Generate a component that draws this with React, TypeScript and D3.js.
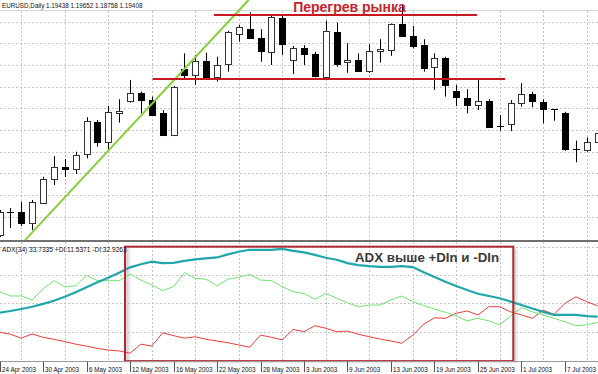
import React from 'react';
import * as d3 from 'd3';

const W = 598;
const H = 374;

const dates = [
  '24 Apr 2003', '25 Apr 2003', '28 Apr 2003', '29 Apr 2003', '30 Apr 2003', '1 May 2003', '2 May 2003', '5 May 2003',
  '6 May 2003', '7 May 2003', '8 May 2003', '9 May 2003', '12 May 2003', '13 May 2003', '14 May 2003', '15 May 2003',
  '16 May 2003', '19 May 2003', '20 May 2003', '21 May 2003', '22 May 2003', '23 May 2003', '26 May 2003', '27 May 2003',
  '28 May 2003', '29 May 2003', '30 May 2003', '2 Jun 2003', '3 Jun 2003', '4 Jun 2003', '5 Jun 2003', '6 Jun 2003',
  '9 Jun 2003', '10 Jun 2003', '11 Jun 2003', '12 Jun 2003', '13 Jun 2003', '16 Jun 2003', '17 Jun 2003', '18 Jun 2003',
  '19 Jun 2003', '20 Jun 2003', '23 Jun 2003', '24 Jun 2003', '25 Jun 2003', '26 Jun 2003', '27 Jun 2003', '30 Jun 2003',
  '1 Jul 2003', '2 Jul 2003', '3 Jul 2003', '4 Jul 2003', '7 Jul 2003', '8 Jul 2003', '9 Jul 2003', '10 Jul 2003',
];

const openP = [
  1.0915, 1.1023, 1.1023, 1.0969, 1.1064, 1.1174, 1.1231, 1.1219, 1.1289, 1.1438, 1.1346, 1.1477, 1.1534, 1.1569,
  1.1538, 1.1477, 1.1377, 1.1680, 1.1654, 1.1720, 1.1643, 1.1705, 1.1843, 1.1865, 1.1823, 1.1759, 1.1916, 1.1723,
  1.1777, 1.1749, 1.1643, 1.1854, 1.1712, 1.1723, 1.1674, 1.1765, 1.1769, 1.1888, 1.1834, 1.1792, 1.1688, 1.1731,
  1.1581, 1.1549, 1.1515, 1.1535, 1.1418, 1.1428, 1.1526, 1.1566, 1.1531, 1.1497, 1.1477, 1.1311, 1.1311, 1.1346,
];
const highP = [
  1.1031, 1.1040, 1.1069, 1.1077, 1.1184, 1.1280, 1.1266, 1.1300, 1.1459, 1.1446, 1.1511, 1.1542, 1.1631, 1.1577,
  1.1554, 1.1492, 1.1603, 1.1754, 1.1746, 1.1757, 1.1738, 1.1858, 1.1885, 1.1943, 1.1865, 1.1931, 1.1931, 1.1788,
  1.1792, 1.1761, 1.1904, 1.1895, 1.1800, 1.1754, 1.1796, 1.1819, 1.1892, 1.1977, 1.1880, 1.1819, 1.1754, 1.1738,
  1.1608, 1.1588, 1.1631, 1.1542, 1.1469, 1.1538, 1.1616, 1.1577, 1.1542, 1.1497, 1.1484, 1.1351, 1.1366, 1.1392,
];
const lowP = [
  1.0906, 1.0948, 1.0957, 1.0938, 1.1058, 1.1146, 1.1183, 1.1197, 1.1269, 1.1323, 1.1311, 1.1434, 1.1526, 1.1477,
  1.1469, 1.1372, 1.1372, 1.1631, 1.1608, 1.1631, 1.1623, 1.1669, 1.1808, 1.1823, 1.1715, 1.1700, 1.1746, 1.1658,
  1.1700, 1.1643, 1.1643, 1.1692, 1.1664, 1.1669, 1.1664, 1.1711, 1.1742, 1.1831, 1.1777, 1.1669, 1.1585, 1.1554,
  1.1511, 1.1477, 1.1492, 1.1412, 1.1397, 1.1395, 1.1508, 1.1505, 1.1431, 1.1443, 1.1304, 1.1251, 1.1300, 1.1331,
];
const closeP = [
  1.1022, 1.1022, 1.0972, 1.1066, 1.1174, 1.1231, 1.1220, 1.1285, 1.1442, 1.1346, 1.1484, 1.1488, 1.1569, 1.1538,
  1.1469, 1.1377, 1.1600, 1.1654, 1.1720, 1.1643, 1.1700, 1.1851, 1.1874, 1.1823, 1.1761, 1.1920, 1.1796, 1.1777,
  1.1749, 1.1646, 1.1857, 1.1708, 1.1723, 1.1674, 1.1765, 1.1774, 1.1888, 1.1834, 1.1789, 1.1688, 1.1731, 1.1608,
  1.1554, 1.1515, 1.1535, 1.1415, 1.1419, 1.1523, 1.1566, 1.1535, 1.1500, 1.1497, 1.1311, 1.1311, 1.1346, 1.1386,
];

const adx = [
  16.7, 17.3, 18.0, 18.8, 19.8, 20.9, 22.3, 23.9, 25.7, 27.4, 29.0, 30.8, 32.7, 33.8, 34.7, 34.2, 34.3, 35.0, 35.5,
  35.9, 36.2, 37.3, 38.2, 38.9, 38.9, 38.9, 39.2, 38.5, 38.0, 37.1, 36.1, 35.4, 34.2, 33.5, 33.1, 32.9, 32.9, 33.1,
  32.8, 31.0, 29.3, 27.6, 26.1, 24.7, 23.4, 22.6, 21.8, 20.6, 19.4, 18.2, 17.0, 15.9, 15.9, 15.9, 15.5, 15.3,
];
const plusDI = [
  24.1, 22.6, 22.6, 21.2, 25.1, 28.0, 25.9, 26.2, 29.8, 28.0, 28.0, 28.0, 30.4, 28.2, 26.5, 24.5, 25.9, 30.8, 28.8,
  28.5, 26.2, 28.5, 29.2, 30.2, 28.2, 28.0, 25.9, 24.1, 23.5, 21.4, 23.5, 21.8, 20.2, 18.8, 19.4, 19.4, 21.2, 22.6,
  20.6, 19.2, 18.0, 16.8, 15.6, 13.8, 14.7, 13.8, 12.4, 15.5, 18.5, 17.0, 15.9, 14.7, 13.5, 12.1, 12.4, 13.3,
];
const minusDI = [
  9.8, 9.1, 7.7, 9.2, 8.0, 7.3, 6.5, 5.6, 4.9, 4.1, 3.5, 3.2, 2.4, 5.6, 4.9, 9.6, 8.6, 7.7, 8.2, 7.3, 6.7, 6.1,
  5.3, 4.5, 8.8, 8.0, 7.1, 10.8, 10.0, 12.1, 11.2, 10.0, 10.2, 9.1, 8.2, 7.4, 6.7, 5.9, 8.8, 12.6, 14.9, 14.7,
  16.5, 17.3, 15.9, 18.8, 18.8, 17.0, 15.9, 14.7, 17.6, 16.1, 20.0, 22.3, 20.6, 19.1,
];

const priceGrid = [1.10, 1.11, 1.12, 1.13, 1.14, 1.15, 1.16, 1.17, 1.18, 1.19];
const adxGrid = [10, 20, 30, 40];

const headerText = 'EURUSD,Daily  1.19438 1.19652 1.18758 1.19408';
const adxText = 'ADX(34) 33.7335 +DI:11.5371 -DI:32.9263';
const titleText = 'Перегрев рынка';
const boxText = 'ADX выше +DIn и -DIn';

// annotations in data space (bar index, price / indicator value)
const trendLine = [[2.34, 1.0892], [22.9, 1.2]];
const upperLevel = { from: 19.72, to: 43.91, price: 1.19308 };
const lowerLevel = { from: 14.08, to: 46.49, price: 1.16354 };
const adxBox = { from: 11.54, to: 47.25, top: 40, bottom: -0.4 };

export default function App() {
  const n = dates.length;
  const dx = 10.873;
  const xi = d3.scaleLinear().domain([0, n - 1]).range([-0.45, -0.45 + (n - 1) * dx]);
  const y = d3.scaleLinear().domain([1.09, 1.2]).range([238.33, 0]);
  const ya = d3.scaleLinear().domain([0, 40]).range([360, 246.67]);

  const mainTop = 11;
  const mainBottom = 240;
  const sepY = 241;
  const panelBottom = 361.5;

  const idx = d3.range(n);
  const gridX = d3.range(2, n, 4);
  const labelIdx = d3.range(0, n, 4);

  const lineOf = (vals: number[]) =>
    d3
      .line<number>()
      .x((i) => xi(i))
      .y((i) => ya(vals[i]))(idx) as string;

  const crisp = (v: number) => Math.round(v) + 0.5;

  return (
    <svg
      width={W}
      height={H}
      viewBox={`0 0 ${W} ${H}`}
      style={{ position: 'absolute', left: 0, top: 0, background: '#fff' }}
      fontFamily="'Liberation Sans', Arial, sans-serif"
    >
      <defs>
        <clipPath id="mainClip">
          <rect x={0} y={0} width={W} height={mainBottom} />
        </clipPath>
        <clipPath id="panelClip">
          <rect x={0} y={sepY + 1} width={W} height={panelBottom - sepY - 1} />
        </clipPath>
        <linearGradient id="innerShadow" x1="0" x2="1" y1="0" y2="0">
          <stop offset="0" stopColor="#9a9a9a" stopOpacity={0.55} />
          <stop offset="1" stopColor="#ffffff" stopOpacity={0} />
        </linearGradient>
        <linearGradient id="outerShadow" x1="0" x2="1" y1="0" y2="0">
          <stop offset="0" stopColor="#b0b0b0" stopOpacity={0.7} />
          <stop offset="1" stopColor="#ffffff" stopOpacity={0} />
        </linearGradient>
      </defs>

      <rect x={0} y={0} width={W} height={H} fill="#fff" />

      {/* header separator */}
      <line x1={0} x2={W} y1={10.5} y2={10.5} stroke="#d6d6d6" strokeWidth={1} />

      {/* main grid */}
      <g stroke="#c4c4c4" strokeWidth={1} strokeDasharray="2,2">
        {priceGrid.map((p) => (
          <line key={'hp' + p} x1={0} x2={W} y1={crisp(y(p))} y2={crisp(y(p))} />
        ))}
        {gridX.map((i) => (
          <line key={'vm' + i} x1={crisp(xi(i))} x2={crisp(xi(i))} y1={mainTop} y2={mainBottom} />
        ))}
      </g>

      {/* candles */}
      <g clipPath="url(#mainClip)">
        {idx.map((i) => {
          const cx = crisp(xi(i));
          const o = openP[i];
          const c = closeP[i];
          const top = y(Math.max(o, c));
          const bot = y(Math.min(o, c));
          const bull = c >= o;
          const h = bot - top;
          return (
            <g key={'c' + i}>
              <line x1={cx} x2={cx} y1={y(highP[i])} y2={y(lowP[i])} stroke="#000" strokeWidth={1} />
              {h < 1.5 ? (
                <line x1={cx - 3.5} x2={cx + 3.5} y1={crisp(top)} y2={crisp(top)} stroke="#000" strokeWidth={1} />
              ) : (
                <rect
                  x={cx - 3}
                  y={Math.round(top) + 0.5}
                  width={6}
                  height={Math.max(1, Math.round(h))}
                  fill={bull ? '#fff' : '#000'}
                  stroke={bull ? '#333' : '#000'}
                  strokeWidth={1}
                />
              )}
            </g>
          );
        })}

        {/* trend line */}
        <line
          x1={xi(trendLine[0][0])}
          y1={y(trendLine[0][1])}
          x2={xi(trendLine[1][0])}
          y2={y(trendLine[1][1])}
          stroke="#86cf3a"
          strokeWidth={2}
        />
        {/* overheating levels */}
        <line
          x1={xi(upperLevel.from)}
          x2={xi(upperLevel.to)}
          y1={y(upperLevel.price)}
          y2={y(upperLevel.price)}
          stroke="#c8171d"
          strokeWidth={2}
        />
        <line
          x1={xi(lowerLevel.from)}
          x2={xi(lowerLevel.to)}
          y1={y(lowerLevel.price)}
          y2={y(lowerLevel.price)}
          stroke="#c8171d"
          strokeWidth={2}
        />
      </g>

      <text x={349.5} y={11.8} textAnchor="middle" fontSize={14} fontWeight="bold" fill="#c8232b">
        {titleText}
      </text>

      <text x={2} y={8.4} fontSize={6.3} fill="#111">
        {headerText}
      </text>

      {/* separator */}
      <line x1={0} x2={W} y1={sepY} y2={sepY} stroke="#707070" strokeWidth={2} />

      {/* panel grid */}
      <g stroke="#c4c4c4" strokeWidth={1} strokeDasharray="2,2">
        {adxGrid.map((v) => (
          <line key={'ha' + v} x1={0} x2={W} y1={crisp(ya(v))} y2={crisp(ya(v))} />
        ))}
        {gridX.map((i) => (
          <line key={'vp' + i} x1={crisp(xi(i))} x2={crisp(xi(i))} y1={sepY + 1} y2={panelBottom} />
        ))}
      </g>

      {/* box shadows */}
      <rect
        x={xi(adxBox.from) + 1.5}
        y={ya(adxBox.top) + 1}
        width={7}
        height={ya(adxBox.bottom) - ya(adxBox.top) - 2}
        fill="url(#innerShadow)"
      />
      <rect
        x={xi(adxBox.to) + 1}
        y={ya(adxBox.top) + 2}
        width={6}
        height={ya(adxBox.bottom) - ya(adxBox.top)}
        fill="url(#outerShadow)"
      />

      <g clipPath="url(#panelClip)" fill="none">
        <path d={lineOf(minusDI)} stroke="#ee3b3b" strokeWidth={1} />
        <path d={lineOf(plusDI)} stroke="#6fe36f" strokeWidth={1} />
        <path d={lineOf(adx)} stroke="#1fa6aa" strokeWidth={2.2} />
      </g>

      <rect
        x={xi(adxBox.from)}
        y={ya(adxBox.top)}
        width={xi(adxBox.to) - xi(adxBox.from)}
        height={ya(adxBox.bottom) - ya(adxBox.top)}
        fill="none"
        stroke="#b3262c"
        strokeWidth={2}
      />

      <text x={355} y={261.7} fontSize={13.3} fontWeight="bold" fill="#3a3a3a">
        {boxText}
      </text>

      <text x={2} y={251.5} fontSize={6.6} fill="#111">
        {adxText}
      </text>

      {/* time axis */}
      <line x1={0} x2={W} y1={panelBottom} y2={panelBottom} stroke="#9a9a9a" strokeWidth={1} />
      {labelIdx.map((i) => {
        const cx = crisp(xi(i));
        return (
          <g key={'t' + i}>
            <line x1={cx} x2={cx} y1={panelBottom} y2={372} stroke="#555" strokeWidth={1} />
            <text x={cx + 1.5} y={372.2} fontSize={6.3} fill="#111">
              {dates[i]}
            </text>
          </g>
        );
      })}
    </svg>
  );
}
